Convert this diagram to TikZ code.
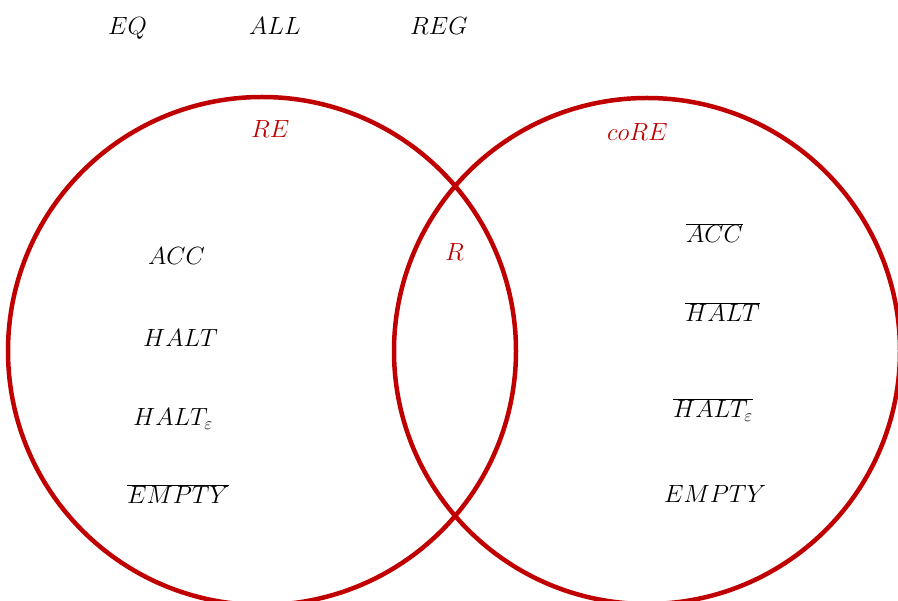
\documentclass[tikz,border=0pt]{standalone}
\definecolor{cred}{HTML}{C00000}
\begin{document}
\begin{tikzpicture}[x=1pt,y=-1pt,
  lbl/.style={anchor=base west,inner sep=0pt,font=\fontsize{27}{31}\selectfont},
  setlbl/.style={lbl,text=cred},
  setcirc/.style={draw=cred,line width=4.5pt}]
\useasboundingbox (0,0) rectangle (898,601);
\clip (0,0) rectangle (898,601);
\node[setcirc,circle,minimum size=508pt,inner sep=0pt] (re) at (262,351) {};
\node[setcirc,circle,minimum size=506pt,inner sep=0pt] (core) at (647,351) {};
\node[lbl] (eq) at (108,35) {$EQ$};
\node[lbl] (all) at (249,35) {$ALL$};
\node[lbl] (reg) at (410,35) {$REG$};
\node[setlbl] (relbl) at (251,138) {$RE$};
\node[setlbl] (corelbl) at (607,141) {$coRE$};
\node[setlbl] (rlbl) at (445,261) {$R$};
\node[lbl] (acc) at (148,265) {$ACC$};
\node[lbl] (halt) at (143,347) {$HALT$};
\node[lbl] (halte) at (133,426) {$HALT_{\varepsilon}$};
\node[lbl] (nempty) at (127,504) {$\overline{EMPTY}$};
\node[lbl] (nacc) at (686,243) {$\overline{ACC}$};
\node[lbl] (nhalt) at (685,322) {$\overline{HALT}$};
\node[lbl] (nhalte) at (673,418) {$\overline{HALT_{\varepsilon}}$};
\node[lbl] (empty) at (664,503) {$EMPTY$};
\end{tikzpicture}
\end{document}
